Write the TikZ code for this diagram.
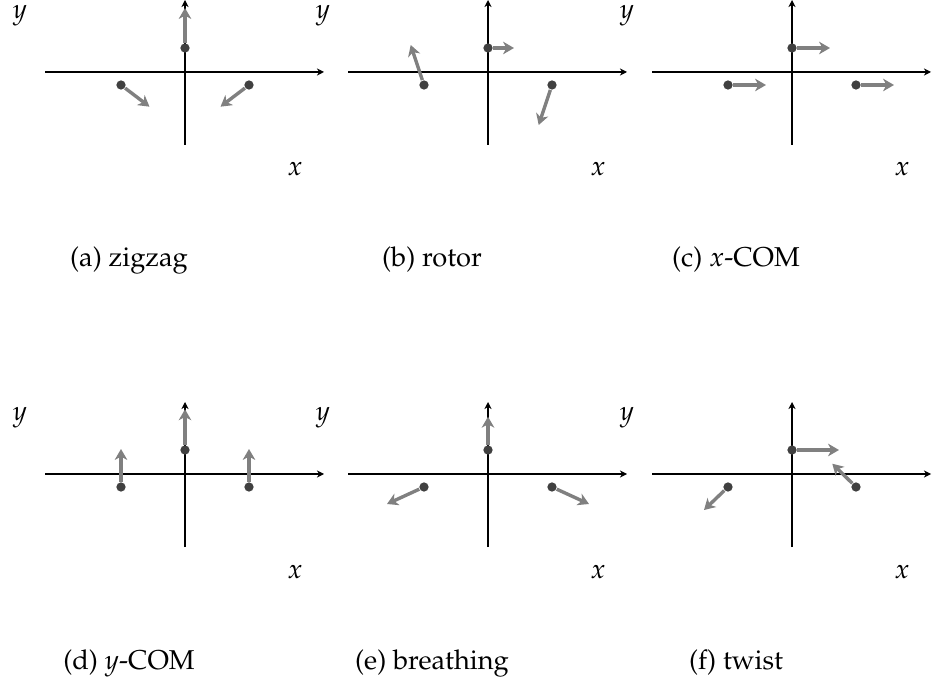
\documentclass[tikz,border=0pt]{standalone}
\usepackage[T1]{fontenc}
\usepackage{mathpazo}
\usetikzlibrary{arrows.meta}
\definecolor{atomgray}{HTML}{404040}
\definecolor{dispgray}{HTML}{808080}

\begin{document}
\begin{tikzpicture}[
  x=0.367pt, y=0.367pt,
  axis/.style={-{Stealth[length=2.6pt,width=2.6pt]}, line width=0.55pt},
  atom/.style={circle, fill=atomgray, inner sep=0pt, minimum size=3.4pt},
  disp/.style={-{Stealth[length=4pt,width=4.6pt,inset=1.2pt]}, line width=1.25pt, dispgray},
  lbl/.style={anchor=base},
  capt/.style={anchor=base},
]
\useasboundingbox (0,0) rectangle (941,-684);

% ══ Panel positions ══
\def\xa{185}
\def\xb{488}
\def\xc{792}
\def\ya{-72}
\def\yb{-474}

% ══ (a) zigzag ══
\begin{scope}[shift={(\xa,\ya)}]
  \draw[axis] (-140,0) -- (139,0);
  \draw[axis] (0,-73) -- (0,72);
  \node[lbl] (aylab) at (-165,53) {$y$};
  \node[lbl] (axlab) at (110,-104) {$x$};
  \node[atom] (a1) at (-64,-13) {};
  \node[atom] (a2) at (0,24) {};
  \node[atom] (a3) at (64,-13) {};
  \coordinate (a1d) at (-35.5,-34.7);
  \coordinate (a2d) at (0,64);
  \coordinate (a3d) at (35.5,-34.7);
  \draw[disp] (a1) -- (a1d);
  \draw[disp] (a2) -- (a2d);
  \draw[disp] (a3) -- (a3d);
  \node[capt] (acap) at (-56,-195) {(a) zigzag};
\end{scope}

% ══ (b) rotor ══
\begin{scope}[shift={(\xb,\ya)}]
  \draw[axis] (-140,0) -- (139,0);
  \draw[axis] (0,-73) -- (0,72);
  \node[lbl] (bylab) at (-165,53) {$y$};
  \node[lbl] (bxlab) at (110,-104) {$x$};
  \node[atom] (b1) at (-64,-13) {};
  \node[atom] (b2) at (0,24) {};
  \node[atom] (b3) at (64,-13) {};
  \coordinate (b1d) at (-77.3,27);
  \coordinate (b2d) at (26,24);
  \coordinate (b3d) at (50.7,-53);
  \draw[disp] (b1) -- (b1d);
  \draw[disp] (b2) -- (b2d);
  \draw[disp] (b3) -- (b3d);
  \node[capt] (bcap) at (-56,-195) {(b) rotor};
\end{scope}

% ══ (c) x-COM ══
\begin{scope}[shift={(\xc,\ya)}]
  \draw[axis] (-140,0) -- (139,0);
  \draw[axis] (0,-73) -- (0,72);
  \node[lbl] (cylab) at (-165,53) {$y$};
  \node[lbl] (cxlab) at (110,-104) {$x$};
  \node[atom] (c1) at (-64,-13) {};
  \node[atom] (c2) at (0,24) {};
  \node[atom] (c3) at (64,-13) {};
  \coordinate (c1d) at (-26,-13);
  \coordinate (c2d) at (38,24);
  \coordinate (c3d) at (102,-13);
  \draw[disp] (c1) -- (c1d);
  \draw[disp] (c2) -- (c2d);
  \draw[disp] (c3) -- (c3d);
  \node[capt] (ccap) at (-56,-195) {(c) $x$-COM};
\end{scope}

% ══ (d) y-COM ══
\begin{scope}[shift={(\xa,\yb)}]
  \draw[axis] (-140,0) -- (139,0);
  \draw[axis] (0,-73) -- (0,72);
  \node[lbl] (dylab) at (-165,53) {$y$};
  \node[lbl] (dxlab) at (110,-104) {$x$};
  \node[atom] (d1) at (-64,-13) {};
  \node[atom] (d2) at (0,24) {};
  \node[atom] (d3) at (64,-13) {};
  \coordinate (d1d) at (-64,25);
  \coordinate (d2d) at (0,64.7);
  \coordinate (d3d) at (64,25);
  \draw[disp] (d1) -- (d1d);
  \draw[disp] (d2) -- (d2d);
  \draw[disp] (d3) -- (d3d);
  \node[capt] (dcap) at (-56,-195) {(d) $y$-COM};
\end{scope}

% ══ (e) breathing ══
\begin{scope}[shift={(\xb,\yb)}]
  \draw[axis] (-140,0) -- (139,0);
  \draw[axis] (0,-73) -- (0,72);
  \node[lbl] (eylab) at (-165,53) {$y$};
  \node[lbl] (exlab) at (110,-104) {$x$};
  \node[atom] (e1) at (-64,-13) {};
  \node[atom] (e2) at (0,24) {};
  \node[atom] (e3) at (64,-13) {};
  \coordinate (e1d) at (-101,-30);
  \coordinate (e2d) at (0,57.3);
  \coordinate (e3d) at (101,-30);
  \draw[disp] (e1) -- (e1d);
  \draw[disp] (e2) -- (e2d);
  \draw[disp] (e3) -- (e3d);
  \node[capt] (ecap) at (-56,-195) {(e) breathing};
\end{scope}

% ══ (f) twist ══
\begin{scope}[shift={(\xc,\yb)}]
  \draw[axis] (-140,0) -- (139,0);
  \draw[axis] (0,-73) -- (0,72);
  \node[lbl] (fylab) at (-165,53) {$y$};
  \node[lbl] (fxlab) at (110,-104) {$x$};
  \node[atom] (f1) at (-64,-13) {};
  \node[atom] (f2) at (0,24) {};
  \node[atom] (f3) at (64,-13) {};
  \coordinate (f1d) at (-88,-36);
  \coordinate (f2d) at (47,24);
  \coordinate (f3d) at (40.3,10.3);
  \draw[disp] (f1) -- (f1d);
  \draw[disp] (f2) -- (f2d);
  \draw[disp] (f3) -- (f3d);
  \node[capt] (fcap) at (-56,-195) {(f) twist};
\end{scope}

\end{tikzpicture}
\end{document}
